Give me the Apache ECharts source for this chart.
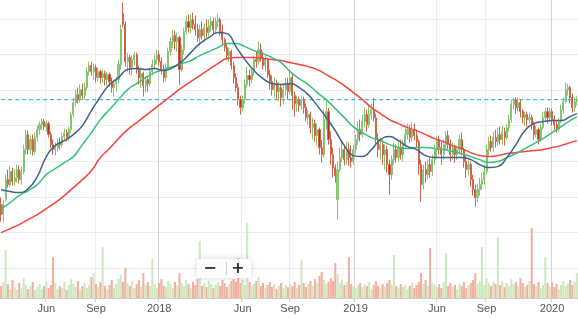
<!DOCTYPE html>
<html><head><meta charset="utf-8">
<script src="https://cdn.jsdelivr.net/npm/echarts/dist/echarts.min.js"></script>
<style>html,body{margin:0;padding:0;background:#fff}#c{width:578px;height:318px}</style>
</head><body><div id="c"></div>
<script>
// ---- data (each candle = 3 trading days) ----
const startDate = '2017-03-09';
const opens = [9.9,8.9,10.4,12.4,11.9,13.2,12.2,12.6,13.4,12.4,13.2,15.4,16.9,15.4,16.4,15.2,16.6,17.4,17.9,18.2,17.7,18.0,16.9,15.9,15.4,15.6,16.1,15.9,16.7,17.1,16.6,17.4,18.9,20.1,20.9,20.4,21.4,20.8,21.6,23.2,23.8,23.2,23.6,22.6,23.2,22.6,23.0,22.4,22.9,22.2,21.6,22.0,22.4,23.9,29.0,27.9,24.2,24.6,23.6,24.4,24.9,23.4,22.6,23.0,21.8,22.4,22.0,23.2,23.9,24.4,24.9,24.2,23.4,22.6,23.6,25.2,26.2,26.8,26.2,26.6,23.4,25.4,27.2,28.2,27.6,28.4,27.9,27.4,26.6,27.4,26.8,27.6,27.1,27.8,28.2,27.4,28.2,28.4,27.2,26.4,25.6,24.8,25.2,23.8,22.6,21.6,20.4,19.6,20.4,21.9,22.8,22.4,23.2,24.4,24.2,25.4,24.6,23.8,24.4,22.9,22.2,21.4,22.0,21.2,21.6,20.6,21.4,22.0,21.2,22.6,20.8,20.0,20.4,19.8,20.4,19.6,18.6,18.9,17.6,18.0,16.8,17.4,15.6,14.9,18.4,19.2,16.4,14.9,13.6,10.4,13.4,14.6,15.4,14.4,15.4,14.6,14.2,15.4,16.4,17.4,16.9,18.2,18.9,17.9,18.9,19.4,18.6,16.4,15.4,15.9,14.9,15.4,13.9,12.9,14.4,15.4,14.6,15.6,14.9,15.9,16.9,17.4,16.6,17.4,16.8,16.2,13.9,11.9,13.4,12.9,13.9,13.2,14.4,15.4,16.4,15.6,14.9,15.9,16.8,15.9,14.9,15.6,14.9,15.4,16.4,15.4,14.2,13.4,13.9,12.4,11.4,10.6,11.4,11.9,12.4,13.2,15.4,16.2,15.6,16.6,16.2,16.9,16.4,17.2,16.6,17.6,18.4,19.9,20.4,19.6,20.1,19.2,18.6,18.9,18.4,18.6,17.9,16.9,17.4,16.4,17.6,18.6,19.2,18.6,19.2,18.4,17.9,17.4,18.2,19.4,20.2,21.4,21.6,20.6,19.6,20.2];
const closes = [8.9,9.9,12.4,11.9,13.2,12.2,12.6,13.4,12.4,13.2,15.4,16.9,15.4,16.4,15.2,16.6,17.4,17.9,18.2,17.7,18.0,16.9,15.9,15.4,15.6,16.1,15.9,16.7,17.1,16.6,17.4,18.9,20.1,20.9,20.4,21.4,20.8,21.6,23.2,23.8,23.2,23.6,22.6,23.2,22.6,23.0,22.4,22.9,22.2,21.6,22.0,22.4,23.9,27.4,27.9,24.2,24.6,23.6,24.4,24.9,23.4,22.6,23.0,21.8,22.4,22.0,23.2,23.9,24.4,24.9,24.2,23.4,22.6,23.6,25.2,26.2,26.8,26.2,26.6,23.4,25.4,27.2,28.2,27.6,28.4,27.9,27.4,26.6,27.4,26.8,27.6,27.1,27.8,28.2,27.4,28.2,28.4,27.2,26.4,25.6,24.8,25.2,23.8,22.6,21.6,20.4,19.6,20.4,21.9,22.8,22.4,23.2,24.4,24.2,25.4,24.6,23.8,24.4,22.9,22.2,21.4,22.0,21.2,21.6,20.6,21.4,22.0,21.2,22.6,20.8,20.0,20.4,19.8,20.4,19.6,18.6,18.9,17.6,18.0,16.8,17.4,15.6,14.9,18.4,19.2,16.4,14.9,13.6,12.8,13.4,14.6,15.4,14.4,15.4,14.6,14.2,15.4,16.4,17.4,16.9,18.2,18.9,17.9,18.9,19.4,18.6,16.4,15.4,15.9,14.9,15.4,13.9,12.9,14.4,15.4,14.6,15.6,14.9,15.9,16.9,17.4,16.6,17.4,16.8,16.2,13.9,11.9,13.4,12.9,13.9,13.2,14.4,15.4,16.4,15.6,14.9,15.9,16.8,15.9,14.9,15.6,14.9,15.4,16.4,15.4,14.2,13.4,13.9,12.4,11.4,10.6,11.4,11.9,12.4,13.2,15.4,16.2,15.6,16.6,16.2,16.9,16.4,17.2,16.6,17.6,18.4,19.9,20.4,19.6,20.1,19.2,18.6,18.9,18.4,18.6,17.9,16.9,17.4,16.4,17.6,18.6,19.2,18.6,19.2,18.4,17.9,17.4,18.2,19.4,20.2,21.4,21.6,20.6,19.6,20.2,20.4];
const lows = [8.2,8.1,10.2,11.6,11.6,11.8,11.8,12.1,12.0,11.9,12.9,14.9,14.9,14.9,14.8,14.9,16.2,16.9,17.4,17.3,17.2,16.6,15.6,14.9,14.8,15.2,15.4,15.6,16.4,16.2,16.3,17.1,18.6,19.7,20.0,20.1,20.4,20.4,21.4,22.8,22.8,22.4,22.1,22.2,22.0,22.1,21.8,21.8,21.7,21.1,20.7,21.2,22.0,23.4,27.6,23.7,23.2,22.9,22.8,23.8,23.0,21.9,21.6,20.7,21.1,21.2,21.7,22.8,23.4,24.0,23.8,22.9,22.1,22.2,23.4,24.8,25.6,25.4,25.2,21.9,23.2,24.9,26.9,27.1,27.0,27.4,26.8,26.2,26.1,26.4,26.2,26.6,26.7,27.2,26.9,27.0,27.6,26.8,25.9,25.2,24.4,24.2,23.4,22.0,21.2,19.8,18.9,19.2,20.0,21.6,21.7,22.0,22.8,23.6,23.9,24.2,23.4,23.2,22.6,21.4,20.8,20.6,20.4,20.2,19.7,20.0,20.8,20.4,20.9,19.4,18.7,19.2,19.2,19.4,19.0,18.2,17.9,17.0,16.4,16.2,15.8,14.9,14.1,14.6,17.4,15.9,13.9,12.6,12.1,8.4,13.2,14.2,13.8,13.9,13.8,13.6,13.9,15.0,15.9,16.2,16.6,17.6,17.2,17.6,18.4,18.2,15.9,14.6,14.4,13.9,13.4,13.1,10.9,12.4,13.9,14.1,14.2,14.4,14.2,15.6,16.4,16.1,16.2,16.3,15.6,12.9,10.2,11.4,12.1,12.4,12.6,12.8,13.9,14.6,14.9,13.9,14.4,15.4,15.4,14.2,14.4,14.1,14.4,14.9,14.8,13.6,12.6,12.8,11.7,10.8,9.7,10.1,10.8,11.4,11.9,12.9,14.8,15.2,15.2,15.6,15.8,15.9,15.9,15.8,16.4,17.2,18.1,19.4,19.0,19.2,18.6,18.0,17.8,17.7,18.0,17.4,16.4,16.6,15.9,16.2,17.4,18.2,18.0,18.2,17.8,17.4,17.1,17.2,18.0,19.0,20.0,20.8,20.0,19.1,19.2,19.8];
const highs = [10.6,10.4,12.9,13.4,13.8,13.6,13.4,13.9,13.8,13.7,15.9,17.4,17.3,16.8,16.9,17.1,17.8,18.2,18.5,18.5,18.3,18.2,17.2,16.4,16.1,16.5,16.6,17.1,17.5,17.4,17.7,19.2,20.6,21.4,21.6,21.9,22.0,22.1,23.6,24.2,24.2,24.0,23.9,23.6,23.4,23.4,23.3,23.2,23.1,22.6,22.4,22.7,24.4,27.9,30.1,28.2,25.1,24.9,24.8,25.2,25.1,23.8,23.6,23.2,22.7,22.8,23.6,24.4,24.9,25.4,25.3,24.6,23.9,24.0,25.6,26.6,27.4,27.3,27.1,26.8,25.9,27.6,28.8,28.9,29.0,29.1,28.8,28.0,27.9,28.2,28.0,28.4,28.4,28.7,28.6,28.6,29.0,28.6,27.9,26.6,26.0,25.6,25.4,24.2,23.0,22.0,20.8,20.8,22.4,23.7,23.4,23.6,24.8,25.2,26.2,26.0,25.2,24.9,24.6,23.4,22.8,22.6,22.4,22.2,21.9,22.0,22.6,22.6,23.4,23.0,21.2,20.8,20.7,20.8,20.7,20.0,19.4,19.2,18.6,18.4,18.0,17.6,16.4,19.4,20.4,19.6,17.2,15.6,13.9,14.2,15.6,16.2,15.9,16.2,16.1,15.8,15.9,16.9,18.2,18.4,18.9,19.6,19.4,19.8,20.0,20.6,19.0,17.0,16.6,16.4,15.9,15.8,14.4,14.8,16.1,15.9,16.2,16.4,16.4,17.6,18.0,17.9,18.1,18.0,17.4,16.4,14.4,13.9,14.2,14.4,14.6,14.9,15.9,16.7,16.8,16.2,16.4,17.2,17.3,16.4,16.1,15.9,15.8,16.9,17.1,15.6,14.8,14.4,14.2,12.9,11.9,12.0,12.6,13.1,13.9,15.9,16.7,16.8,17.2,17.4,17.6,17.7,17.8,17.6,17.9,18.9,20.4,20.6,20.6,20.6,20.4,19.4,19.2,19.2,19.1,18.9,18.2,17.8,17.6,18.0,19.2,19.6,19.6,19.6,19.5,18.8,18.3,18.6,19.9,20.6,22.1,22.0,21.8,21.0,20.6,20.8];
const volumes = [1.2,1.6,4.8,1.4,0.9,1.8,1.1,0.8,1.5,1.0,2.0,1.3,0.9,1.2,1.6,0.8,1.1,1.4,0.9,1.2,1.7,1.0,1.3,4.1,1.5,0.9,1.2,1.0,1.6,0.8,1.3,1.9,1.4,1.1,1.7,0.9,1.2,1.5,1.0,1.3,2.1,2.5,1.4,1.1,1.6,5.1,1.2,0.9,1.3,1.8,1.0,1.4,1.9,2.3,1.6,3.0,1.5,1.2,1.7,1.0,1.4,1.8,1.1,2.5,1.3,1.6,1.2,3.9,1.4,1.0,1.5,1.9,1.2,1.1,1.7,1.4,1.0,1.6,1.3,2.5,1.5,1.2,1.8,1.4,1.0,1.6,1.3,1.9,5.7,1.2,1.5,1.1,1.7,1.4,1.0,1.3,1.6,1.2,1.8,1.5,1.1,1.4,1.7,1.9,1.6,4.0,1.5,1.8,1.3,7.5,1.6,1.2,1.4,1.7,2.1,1.2,1.5,1.0,1.3,1.6,1.1,1.4,0.9,1.2,1.5,1.0,1.3,1.1,1.4,1.2,1.6,1.0,1.3,3.8,1.5,1.1,1.4,1.7,1.2,1.9,1.5,2.2,2.6,1.8,1.4,1.6,2.0,1.7,3.5,2.4,1.5,1.8,1.3,1.6,4.1,1.4,1.2,1.0,1.3,1.5,1.1,1.4,1.2,1.6,0.9,1.3,1.7,1.2,1.0,1.4,1.1,1.5,1.8,1.3,4.3,1.2,1.0,1.4,1.1,1.3,0.9,1.2,1.5,1.0,1.3,1.6,2.5,1.4,1.8,1.2,5.0,1.5,1.3,1.1,1.4,1.0,1.6,4.5,1.2,1.5,1.1,1.3,0.9,1.4,1.2,1.6,1.0,1.3,1.5,1.8,2.5,1.4,1.7,5.1,1.3,2.0,1.5,1.2,1.6,1.4,6.1,1.3,1.7,1.1,1.5,1.2,1.9,1.4,1.6,1.2,2.0,1.5,1.1,1.3,1.7,7.0,1.4,1.2,1.6,1.0,1.3,4.1,1.5,1.2,1.6,1.1,1.4,0.9,1.3,1.7,1.2,1.5,1.8,1.3,1.6,2.5];
// moving averages, sampled every 4th candle (plus the last one)
const maStep = 4;
const maShort = [11.4,11.2,11.1,11.5,12.7,14.7,15.8,16.3,16.9,17.8,19.3,20.7,21.9,22.6,23.4,23.5,23.4,23.5,23.3,23.6,24.2,25.1,26.0,26.6,27.1,27.0,25.7,24.4,23.3,22.5,22.0,21.9,22.0,21.6,20.9,19.8,18.6,17.3,15.8,14.8,14.7,15.4,16.4,16.7,16.3,15.7,15.4,14.8,14.6,14.6,14.6,14.6,14.4,13.9,13.6,13.7,14.6,15.9,17.3,18.0,18.2,18.3,18.3,18.7,19.0];
const maMid = [9.5,10.1,10.8,11.3,11.9,12.9,13.5,14.1,14.7,15.9,17.1,18.4,19.4,20.4,21.4,22.0,22.6,23.1,23.4,23.7,24.0,24.3,24.8,25.2,25.6,26.0,26.0,25.7,25.3,25.0,24.6,24.1,23.2,22.5,21.9,21.1,20.4,19.5,18.6,17.7,17.1,16.6,16.3,15.9,15.6,15.5,15.6,15.6,15.5,15.4,15.2,15.0,14.7,14.4,14.1,14.2,14.6,15.0,15.5,16.0,16.5,17.1,17.7,18.3,18.7];
const maLong = [7.1,7.5,7.9,8.4,8.9,9.5,10.1,10.8,11.6,12.4,13.3,14.6,15.5,16.5,17.4,18.1,18.8,19.5,20.2,20.9,21.6,22.2,22.8,23.4,24.0,24.5,24.6,24.6,24.6,24.5,24.4,24.3,24.1,23.9,23.7,23.4,22.9,22.4,21.8,21.1,20.4,19.6,19.0,18.4,18.0,17.6,17.3,16.9,16.5,16.2,15.8,15.5,15.1,14.8,14.7,14.8,15.0,15.1,15.2,15.3,15.4,15.6,15.8,16.1,16.3];
// axis ticks
const tickMonths = ['2017-06','2017-09','2018-01','2018-06','2018-09','2019-01','2019-06','2019-09','2020-01'];
const tickTexts = ['Jun','Sep','2018','Jun','Sep','2019','Jun','Sep','2020'];

// ---- build ----
function buildDates(n, step){
  const out=[]; const d=new Date(startDate+'T00:00:00Z'); let wd=0;
  while(out.length<n){
    const day=d.getUTCDay();
    if(day!==0 && day!==6){ if(wd%step===0) out.push(d.toISOString().slice(0,10)); wd++; }
    d.setUTCDate(d.getUTCDate()+1);
  }
  return out;
}
const N = opens.length;
const dates = buildDates(N, 3);
const tickMap = {}; const yearSet = {};
tickMonths.forEach((m,j)=>{
  const s=m+'-01'; let k=0;
  for(let i=0;i<dates.length;i++){ if(dates[i]<=s) k=i; }
  tickMap[k]=tickTexts[j];
  if(/^\d{4}$/.test(tickTexts[j])) yearSet[k]=true;
});
const maIdx=[]; for(let i=0;i<N;i+=maStep) maIdx.push(i); if(maIdx[maIdx.length-1]!==N-1) maIdx.push(N-1);
const mk = arr => maIdx.map((k,j)=>[k, arr[j]]);
const candles = opens.map((o,i)=>[o, closes[i], lows[i], highs[i]]);
const lastClose = closes[N-1];

const chart = echarts.init(document.getElementById('c'), null, {renderer:'canvas'});
chart.setOption({
  animation:false,
  backgroundColor:'#fff',
  grid:[
    {left:0,right:0,top:0,bottom:14.4},
    {left:0,right:0,top:0,bottom:20}
  ],
  xAxis:[
    {type:'category',gridIndex:0,data:dates,show:false},
    {type:'category',gridIndex:1,data:dates,
      axisLine:{lineStyle:{color:'#cfcfcf'}},
      axisTick:{show:true,interval:(i)=>i in tickMap,length:4,lineStyle:{color:'#cfcfcf'}},
      axisLabel:{interval:(i)=>i in tickMap,formatter:(v,i)=>tickMap[i]||'',color:'#555',fontSize:11,margin:5,fontFamily:'Liberation Sans, Arial, sans-serif'},
      splitLine:{show:true,interval:(i)=>(i in tickMap)&&!yearSet[i],lineStyle:{color:'#ececec'}}},
    {type:'category',gridIndex:1,data:dates,
      axisLine:{show:false},axisTick:{show:false},axisLabel:{show:false},
      splitLine:{show:true,interval:(i)=>!!yearSet[i],lineStyle:{color:'#d2d2d2'}}}
  ],
  yAxis:[
    {type:'value',gridIndex:0,min:0,max:30.36,interval:3.56,
      axisLine:{show:false},axisTick:{show:false},axisLabel:{show:false},
      splitLine:{show:true,showMinLine:false,showMaxLine:false,lineStyle:{color:'#ececec'}}},
    {type:'value',gridIndex:1,min:0,max:29.8,show:false}
  ],
  graphic:[
    {type:'rect',left:197,top:259,z:100,shape:{width:54,height:19,r:2},
      style:{fill:'rgba(255,255,255,0.95)',shadowBlur:6,shadowColor:'rgba(0,0,0,0.18)'}},
    {type:'line',z:101,shape:{x1:226.5,y1:262,x2:226.5,y2:275},style:{stroke:'#cccccc',lineWidth:1}},
    {type:'text',z:101,style:{text:'−',x:210,y:268.5,align:'center',verticalAlign:'middle',font:'bold 16px "DejaVu Sans", sans-serif',fill:'#333'}},
    {type:'text',z:101,style:{text:'+',x:238,y:268.5,align:'center',verticalAlign:'middle',font:'bold 16px "DejaVu Sans", sans-serif',fill:'#333'}}
  ],
  series:[
    {type:'bar',xAxisIndex:1,yAxisIndex:1,z:1,barWidth:2.1,
      data:volumes.map((v,i)=>({value:v,itemStyle:{color: closes[i]>=opens[i]?'#cfe8c2':'#f2b0a0'}}))},
    {type:'candlestick',xAxisIndex:0,yAxisIndex:0,z:2,data:candles,barWidth:1.6,
      itemStyle:{color:'#95cc80',borderColor:'#86c470',color0:'#b8301b',borderColor0:'#d4634c',borderWidth:1}},
    {type:'line',xAxisIndex:0,yAxisIndex:0,z:2,data:[[0,lastClose],[N-1,lastClose]],showSymbol:false,silent:true,
      color:'#3fbcd4',itemStyle:{color:'#3fbcd4'},lineStyle:{color:'#3fbcd4',type:[4,3],width:1.2}},
    {type:'line',xAxisIndex:0,yAxisIndex:0,z:3,data:mk(maLong),smooth:true,showSymbol:false,lineStyle:{color:'#f5453d',width:1.5}},
    {type:'line',xAxisIndex:0,yAxisIndex:0,z:3,data:mk(maMid),smooth:true,showSymbol:false,lineStyle:{color:'#37c07a',width:1.5}},
    {type:'line',xAxisIndex:0,yAxisIndex:0,z:3,data:mk(maShort),smooth:true,showSymbol:false,lineStyle:{color:'#41608a',width:1.5}}
  ]
});
</script></body></html>
